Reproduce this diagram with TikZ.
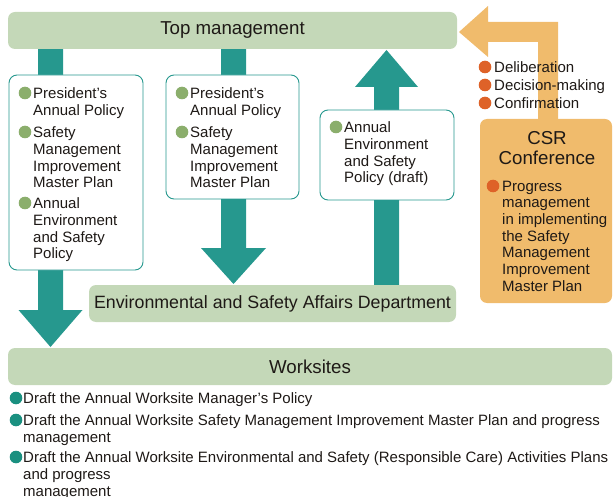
\documentclass[tikz,border=0pt]{standalone}
\usepackage{fontspec}
\setmainfont{Liberation Sans}
\usetikzlibrary{calc}
\definecolor{gboxc}{RGB}{196,216,184}
\definecolor{tealc}{RGB}{38,152,142}
\definecolor{gdot}{RGB}{139,174,108}
\definecolor{orgc}{RGB}{240,187,108}
\definecolor{odot}{RGB}{222,98,40}
\definecolor{tdot}{RGB}{26,144,128}
\definecolor{txt}{RGB}{30,25,22}
\newcommand\bitem[6]{%
  \node[itemtext] (#1) at (#3,#4-5.4) {#6};
  \fill[#2] ([xshift=#5pt,yshift=-5.4pt]#1.north west) circle (6.3pt);}
\begin{document}
\begin{tikzpicture}[x=1pt,y=-1pt,
  gbox/.style={fill=gboxc, rounded corners=7pt, inner sep=0pt, text=txt, font=\fontsize{18.7}{20}\selectfont},
  wbox/.style={draw=tealc, line width=0.9pt, fill=white, rounded corners=8pt, inner sep=0pt},
  obox/.style={fill=orgc, rounded corners=7pt, inner sep=0pt},
  itemtext/.style={anchor=north west, inner sep=0pt, align=left, text=txt, font=\fontsize{15}{16.7}\selectfont},
]
\useasboundingbox (0,0) rectangle (613,497);

% teal block arrows
\coordinate (aS) at (50.5,45);  \coordinate (aT) at (50.5,347);
\coordinate (bS) at (233.5,45); \coordinate (bT) at (233.5,284);
\coordinate (cS) at (386.5,290); \coordinate (cT) at (386.5,50);
\fill[tealc] ([xshift=-12.5pt]aS) -- ([xshift=-12.5pt,yshift=37pt]aT) -- ([xshift=-32pt,yshift=37pt]aT) -- (aT)
  -- ([xshift=32pt,yshift=37pt]aT) -- ([xshift=12.5pt,yshift=37pt]aT) -- ([xshift=12.5pt]aS) -- cycle;
\fill[tealc] ([xshift=-12.5pt]bS) -- ([xshift=-12.5pt,yshift=36pt]bT) -- ([xshift=-32.5pt,yshift=36pt]bT) -- (bT)
  -- ([xshift=32.5pt,yshift=36pt]bT) -- ([xshift=12.5pt,yshift=36pt]bT) -- ([xshift=12.5pt]bS) -- cycle;
\fill[tealc] ([xshift=-12.5pt]cS) -- ([xshift=-12.5pt,yshift=-37pt]cT) -- ([xshift=-31.5pt,yshift=-37pt]cT) -- (cT)
  -- ([xshift=31.5pt,yshift=-37pt]cT) -- ([xshift=12.5pt,yshift=-37pt]cT) -- ([xshift=12.5pt]cS) -- cycle;

% orange L arrow
\fill[orgc] (459,32) -- (488,6) -- (488,22) -- (558,22) -- (558,130) -- (538,130) -- (538,42) -- (488,42) -- (488,57) -- cycle;

% boxes
\node[gbox, minimum width=449pt, minimum height=37pt] (top) at (232.5,30.5) {Top management};
\node[gbox, minimum width=367pt, minimum height=37pt, font=\fontsize{17.8}{19}\selectfont] (esa) at (272.5,303.5) {Environmental and Safety Affairs Department};
\node[gbox, minimum width=604pt, minimum height=37pt] (work) at (310,366.5) {Worksites};
\node[obox, minimum width=132pt, minimum height=184pt] (csr) at (546,211) {};
\node[wbox, minimum width=134pt, minimum height=195pt] (box1) at (76,172.5) {};
\node[wbox, minimum width=133pt, minimum height=124pt] (box2) at (232.5,137) {};
\node[wbox, minimum width=134pt, minimum height=90pt] (box3) at (387,155) {};

% box texts
\bitem{i11}{gdot}{33}{93}{-8}{President’s\\Annual Policy}
\bitem{i12}{gdot}{33}{132}{-8}{Safety\\Management\\Improvement\\Master Plan}
\bitem{i13}{gdot}{33}{203}{-8}{Annual\\Environment\\and Safety\\Policy}
\bitem{i21}{gdot}{190}{93}{-8}{President’s\\Annual Policy}
\bitem{i22}{gdot}{190}{132}{-8}{Safety\\Management\\Improvement\\Master Plan}
\bitem{i31}{gdot}{344}{127}{-8}{Annual\\Environment\\and Safety\\Policy (draft)}

% CSR
\node[anchor=north, inner sep=0pt, align=center, text=txt, font=\fontsize{18.7}{19.5}\selectfont] (csrt) at (547,131.4) {CSR\\Conference};
\bitem{i41}{odot}{502}{186}{-9}{Progress\\management\\in implementing\\the Safety\\Management\\Improvement\\Master Plan}
\bitem{d1}{odot}{494}{67}{-9}{Deliberation}
\bitem{d2}{odot}{494}{85}{-9}{Decision-making}
\bitem{d3}{odot}{494}{103}{-9}{Confirmation}

% worksites list
\bitem{w1}{tdot}{23}{398}{-7}{Draft the Annual Worksite Manager’s Policy}
\bitem{w2}{tdot}{23}{420}{-7}{Draft the Annual Worksite Safety Management Improvement Master Plan and progress\\management}
\bitem{w3}{tdot}{23}{457}{-7}{Draft the Annual Worksite Environmental and Safety (Responsible Care) Activities Plans\\and progress\\management}
\end{tikzpicture}
\end{document}
